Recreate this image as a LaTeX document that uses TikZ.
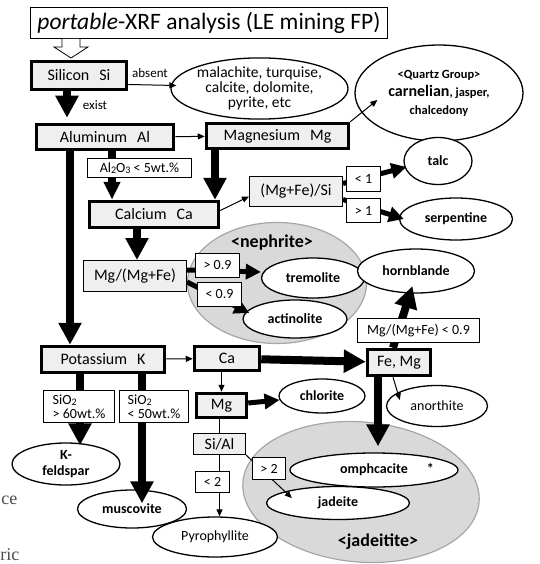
\documentclass[tikz,border=0pt]{standalone}
\usepackage{fontspec}
\setmainfont{Carlito}
\newfontfamily\pagefont{Liberation Serif}
\usepackage{tikz}
\usetikzlibrary{arrows.meta,shapes.geometric}
\definecolor{boxfill}{HTML}{EFEFEF}
\definecolor{groupfill}{HTML}{D9D9D9}
\definecolor{groupline}{HTML}{A6A6A6}
\newcommand{\subdigit}[1]{\raisebox{-1pt}{\fontsize{10}{10}\selectfont #1}}

\begin{document}
\begin{tikzpicture}[x=1pt, y=-1pt,
    elem/.style={draw, line width=3.5pt, fill=boxfill, inner sep=0pt,
        font=\fontsize{16}{18}\selectfont},
    ratio/.style={draw, line width=1pt, fill=boxfill, inner sep=0pt,
        font=\fontsize{16}{18}\selectfont},
    cond/.style={draw, line width=0.8pt, fill=white, inner sep=0pt,
        font=\fontsize{14}{15}\selectfont},
    mineral/.style={ellipse, draw, line width=1.3pt, fill=white, inner sep=0pt,
        font=\bfseries\fontsize{14}{15}\selectfont},
    group/.style={ellipse, draw=groupline, line width=1.2pt, fill=groupfill},
    bigarrow/.style={line width=8pt, -{Triangle[length=22pt,width=22pt]}},
    midarrow/.style={line width=5pt, -{Triangle[length=15pt,width=15pt]}},
    thinarrow/.style={line width=1pt, -{Triangle[length=7pt,width=6pt]}}]
    \useasboundingbox (0,0) rectangle (539,564);

    % mineral groups behind everything
    \node[group, minimum width=179pt, minimum height=121pt] (nephrite) at (277,283) {};
    \node[group, minimum width=237pt, minimum height=140pt, rotate=-5] (jadeitite) at (361,492) {};
    \node[font=\bfseries\fontsize{18}{20}\selectfont] (nephlabel) at (272,243) {<nephrite>};
    \node[font=\bfseries\fontsize{18}{20}\selectfont] (jadelabel) at (378,542) {<jadeitite>};

    \node[draw, line width=0.8pt, minimum width=357pt, minimum height=31pt,
        font=\fontsize{23.5}{25}\selectfont] (title) at (209,23)
        {\textit{portable}-XRF analysis (LE mining FP)};
    \draw[line width=0.8pt, fill=white] (62,39) -- (62,47) -- (54,47) -- (71,58)
        -- (88,47) -- (80,47) -- (80,39);

    % element boxes
    \node[elem, minimum width=95pt, minimum height=28pt] (si) at (79,75.5) {Silicon\hspace{10pt}Si};
    \node[elem, minimum width=137pt, minimum height=25pt] (al) at (105,137) {Aluminum\hspace{10pt}Al};
    \node[elem, minimum width=142pt, minimum height=25pt] (mg) at (277.5,136) {Magnesium\hspace{10pt}Mg};
    \node[elem, minimum width=129pt, minimum height=26pt] (ca) at (154,214.5) {Calcium\hspace{10pt}Ca};
    \node[elem, minimum width=123pt, minimum height=26pt] (k) at (103,359.5) {Potassium\hspace{10pt}K};
    \node[elem, minimum width=65pt, minimum height=24pt] (caK) at (227,358.5) {Ca};
    \node[elem, minimum width=63pt, minimum height=26pt] (femg) at (399,362.5) {Fe, Mg};
    \node[elem, minimum width=50pt, minimum height=24pt] (mgK) at (221.5,405.5) {Mg};
    \node[ratio, minimum width=93pt, minimum height=30pt] (mgfesi) at (296,191.5) {(Mg+Fe)/Si};
    \node[ratio, minimum width=103pt, minimum height=31pt] (mgmgfe) at (135,276) {Mg/(Mg+Fe)};
    \node[ratio, minimum width=52pt, minimum height=21pt] (sial) at (219.5,444) {Si/Al};

    % minerals
    \node[ellipse, draw, line width=1.3pt, fill=white, inner sep=0pt, minimum width=177pt,
        minimum height=53pt, align=center, font=\fontsize{15.5}{15}\selectfont] (mal) at (259.5,88.5)
        {malachite, turquise,\\calcite, dolomite,\\pyrite, etc};
    \node[mineral, minimum width=168pt, minimum height=96pt, align=center,
        font=\bfseries\fontsize{12.5}{18}\selectfont] (quartz) at (439,93)
        {<Quartz Group>\\{\fontsize{16}{18}\selectfont carnelian}, jasper,\\chalcedony};
    \node[mineral, minimum width=68pt, minimum height=47pt] (talc) at (438,161) {talc};
    \node[mineral, minimum width=113pt, minimum height=42pt] (serp) at (456,219) {serpentine};
    \node[mineral, minimum width=103pt, minimum height=40pt] (trem) at (313,278) {tremolite};
    \node[mineral, minimum width=104pt, minimum height=38pt] (actin) at (295,319) {actinolite};
    \node[mineral, minimum width=117pt, minimum height=44pt] (horn) at (416,271) {hornblande};
    \node[mineral, minimum width=101pt, minimum height=41pt,
        font=\fontsize{14}{15}\selectfont] (anor) at (437,406) {anorthite};
    \node[mineral, minimum width=86pt, minimum height=34pt] (chlor) at (322,396) {chlorite};
    \node[mineral, minimum width=168pt, minimum height=34pt] (omph) at (374,470)
        {omphcacite\rlap{\hspace{19pt}*}};
    \node[mineral, minimum width=143pt, minimum height=33pt] (jade) at (338,503) {jadeite};
    \node[mineral, minimum width=125pt, minimum height=40pt,
        font=\fontsize{14}{15}\selectfont] (pyro) at (215,537) {Pyrophyllite};
    \node[mineral, minimum width=108pt, minimum height=42pt, align=center,
        font=\bfseries\fontsize{14}{16}\selectfont] (kfeld) at (66,464) {K-\\feldspar};
    \node[mineral, minimum width=109pt, minimum height=38pt] (musc) at (132,509) {muscovite};

    % connectors
    \draw[thinarrow] ([yshift=-9pt]si.east) -- ([xshift=6pt,yshift=3pt]mal.west);
    \draw[bigarrow, shorten >=5pt] (si.south -| 67,0) -- (al.north -| 67,0);
    \draw[thinarrow] (al) -- (mg);
    \draw[thinarrow] (mg.north east) -- ([xshift=23pt,yshift=-7pt]quartz.west);
    \draw[bigarrow] (al.south -| 70,0) -- (k.north -| 70,0);
    \draw[bigarrow, -{Triangle[length=18pt,width=16pt]}] (al.south -| 112,0) -- (ca.north -| 112,0);
    \draw[bigarrow] (mg.south -| 215,0) -- (ca.north -| 215,0);
    \draw[bigarrow] (ca.south -| 137,0) -- (mgmgfe.north -| 137,0);
    \draw[thinarrow] ([yshift=4pt]ca.east) -- ([yshift=-5pt]mgfesi.west);
    \draw[midarrow] ([yshift=8pt]mgfesi.east) -- ([xshift=3pt,yshift=-6pt]talc.west);
    \draw[midarrow] ([yshift=-8pt]mgfesi.east) -- ([xshift=5pt]serp.west);
    \draw[midarrow] ([yshift=6pt]mgmgfe.east) -- ([yshift=6pt]trem.west);
    \draw[midarrow] ([yshift=-6pt]mgmgfe.east) -- ([xshift=7pt,yshift=6pt]actin.west);
    \draw[thinarrow] (k) -- (caK);
    \draw[bigarrow] (caK) -- (femg);
    \draw[bigarrow, shorten >=-8pt] (femg.north -| 393,0) -- ([xshift=-6pt]horn.south);
    \draw[bigarrow, shorten >=6pt] (femg.south -| 378,0) -- (omph.north -| 378,0);
    \draw[thinarrow] ([xshift=-6pt]femg.south) -- ([xshift=14pt,yshift=6pt]anor.west);
    \draw[thinarrow] (caK.south -| mgK.north) -- (mgK.north);
    \draw[midarrow] (mgK) -- (chlor);
    \draw[line width=1pt] (mgK.south -| sial.north) -- (sial.north);
    \draw[thinarrow] (sial.south) -- (sial.south |- pyro.north);
    \draw[thinarrow] (sial.south east) -- ([xshift=26pt,yshift=5pt]jade.west);
    \draw[bigarrow, shorten >=-3pt] (k.south -| 80,0) -- (kfeld.north -| 80,0);
    \draw[bigarrow, shorten >=-14pt] (k.south -| 142,0) -- (musc.north -| 142,0);

    % condition labels on top of the connectors
    \node[font=\fontsize{13}{14}\selectfont] (absent) at (150,73) {absent};
    \node[font=\fontsize{13}{14}\selectfont] (exist) at (95,105) {exist};
    \node[cond, minimum width=104pt, minimum height=19pt] (al2o3) at (139.5,168)
        {Al\subdigit{2}O\subdigit{3} < 5wt.\%};
    \node[cond, minimum width=34pt, minimum height=25pt] (lt1) at (363.5,179) {< 1};
    \node[cond, minimum width=34pt, minimum height=24pt] (gt1) at (363.5,210.5) {> 1};
    \node[cond, minimum width=44pt, minimum height=24pt] (gt09) at (217.5,265.5) {> 0.9};
    \node[cond, minimum width=44pt, minimum height=24pt] (lt09) at (219.5,294.5) {< 0.9};
    \node[cond, minimum width=122pt, minimum height=24pt] (lt09b) at (418.5,330.5) {Mg/(Mg+Fe) < 0.9};
    \node[cond, minimum width=71pt, minimum height=32pt, align=left,
        font=\fontsize{14}{14}\selectfont] (sio60) at (79,406.5) {SiO\subdigit{2}\\> 60wt.\%};
    \node[cond, minimum width=69pt, minimum height=32pt, align=left,
        font=\fontsize{14}{14}\selectfont] (sio50) at (154,406.5) {SiO\subdigit{2}\\< 50wt.\%};
    \node[cond, minimum width=33pt, minimum height=22pt] (gt2) at (269,468.5) {> 2};
    \node[cond, minimum width=34pt, minimum height=21pt] (lt2) at (212.5,482) {< 2};

    % page text at the left margin
    \node[anchor=east, inner sep=0pt, text=black!70, font=\pagefont\fontsize{18}{20}\selectfont] (ce) at (17.5,500) {ce};
    \node[anchor=west, inner sep=0pt, text=black!70, font=\pagefont\fontsize{18}{20}\selectfont] (ric) at (0.3,555) {ric};
\end{tikzpicture}
\end{document}
